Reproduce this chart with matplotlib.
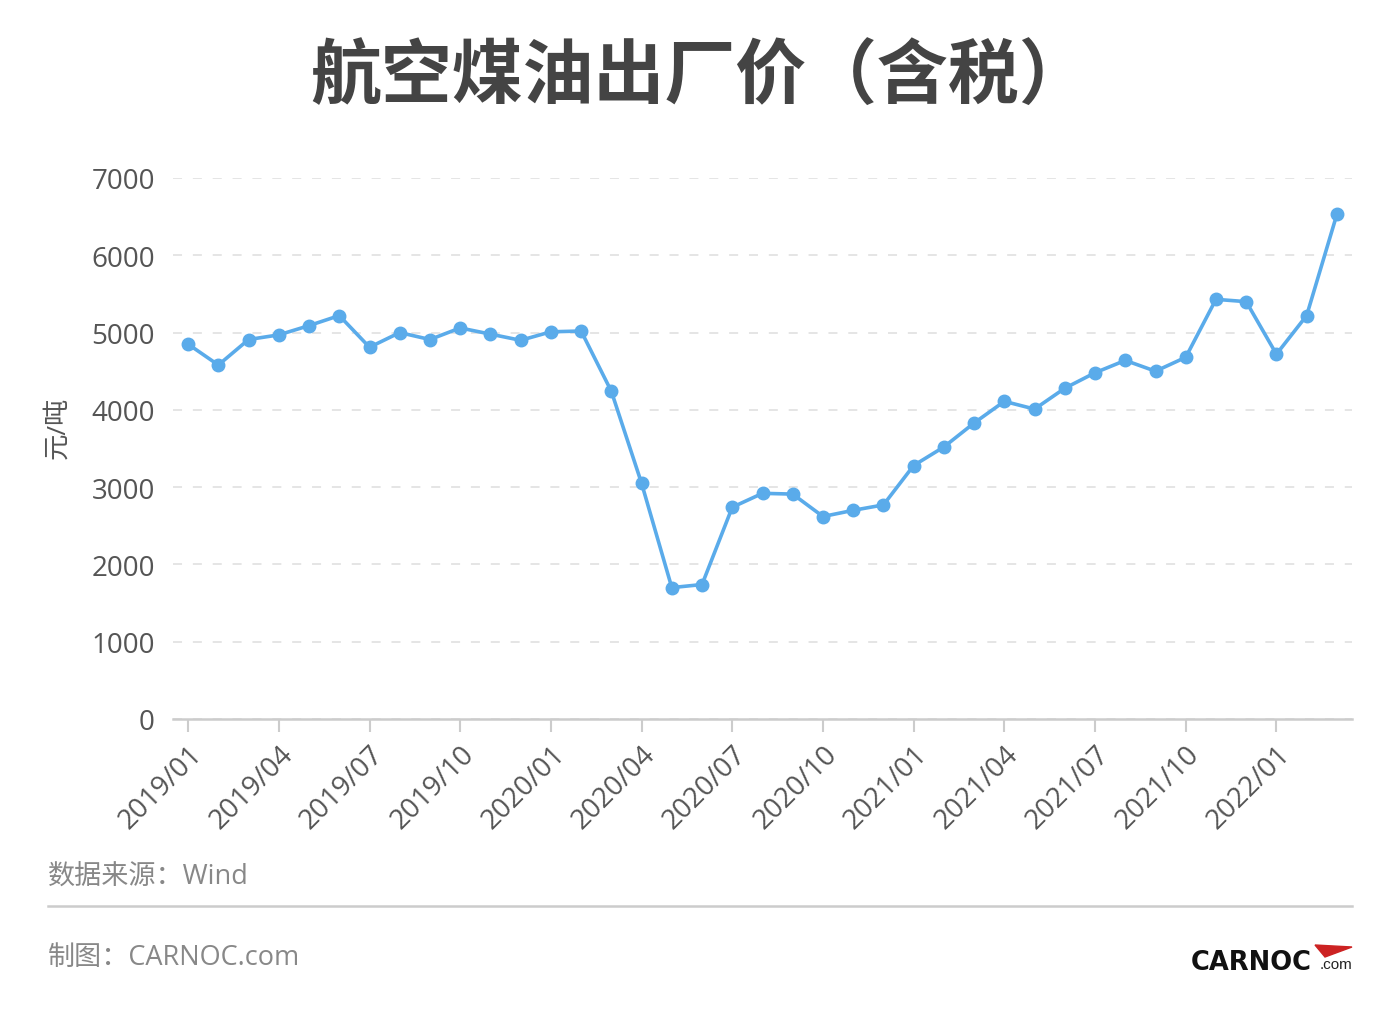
import matplotlib
matplotlib.use("Agg")
import matplotlib.pyplot as plt
from matplotlib.patches import Polygon

plt.rcParams['font.family'] = ['Open Sans', 'Noto Sans CJK SC', 'DejaVu Sans']

months = [f"{y}/{m:02d}" for y in (2019, 2020, 2021) for m in range(1, 13)] + ["2022/01", "2022/02", "2022/03"]
prices = [4850, 4580, 4910, 4970, 5090, 5220, 4810, 5000, 4910, 5060, 4980, 4900,
          5010, 5020, 4240, 3050, 1700, 1740, 2740, 2920, 2910, 2620, 2700, 2770,
          3280, 3520, 3830, 4110, 4010, 4280, 4480, 4640, 4500, 4680, 5430, 5400,
          4720, 5220, 6530]
yticks = [0, 1000, 2000, 3000, 4000, 5000, 6000, 7000]

W, H = 1400, 1020
fig = plt.figure(figsize=(W / 100, H / 100), dpi=100)
ax = fig.add_axes([173 / W, 1 - 720 / H, (1352 - 173) / W, (720 - 179) / H])

x = list(range(len(months)))
ax.plot(x, prices, color='#5aabea', lw=2.6, marker='o', ms=9, mec='#5aabea', mfc='#5aabea', zorder=3, clip_on=False)

ax.set_xlim(-0.5, 38.5)
ax.set_ylim(0, 7000)
ax.set_yticks(yticks)
ax.set_yticklabels([str(v) for v in yticks], fontsize=20, color='#555555')
ax.yaxis.grid(True, linestyle=(0, (5, 6)), color='#e3e3e3', lw=1.3)
ax.set_axisbelow(True)
ax.tick_params(axis='y', length=0, pad=13)

tick_idx = list(range(0, len(months), 3))
ax.set_xticks(tick_idx)
ax.set_xticklabels([months[i] for i in tick_idx], rotation=45, ha='right', va='top',
                   rotation_mode='anchor', fontsize=20, color='#555555')
ax.tick_params(axis='x', length=9, width=1.5, color='#cccccc', pad=6)

for s in ('top', 'right', 'left'):
    ax.spines[s].set_visible(False)
ax.spines['bottom'].set_color('#cccccc')
ax.spines['bottom'].set_linewidth(1.8)

ax.set_ylabel('元/吨', fontsize=19, color='#555555')
ax.yaxis.set_label_coords((58 - 173) / (1352 - 173), (720 - 428) / 541)
ax.yaxis.label.set_va('center')

fig.text(0.5, 1 - 77 / H, '航空煤油出厂价（含税）', ha='center', va='center',
         fontsize=51, fontweight='bold', color='#444444',
         family=['Noto Sans CJK SC', 'DejaVu Sans'])

fig.text(48 / W, 1 - 877 / H, '数据来源：Wind', ha='left', va='center', fontsize=19.5, color='#888888')
fig.text(48 / W, 1 - 958 / H, '制图：CARNOC.com', ha='left', va='center', fontsize=19.5, color='#888888')
fig.add_artist(plt.Line2D([48 / W, 1352 / W], [1 - 907 / H, 1 - 907 / H], color='#cccccc', lw=1.8))

# logo
fig.text(1191 / W, 1 - 963 / H, 'CARNOC', ha='left', va='center', fontsize=18.5, fontweight='bold',
         color='#111111', family=['DejaVu Sans'])
fig.text(1352 / W, 1 - 965 / H, '.com', ha='right', va='center', fontsize=11,
         color='#222222', family=['Liberation Sans', 'DejaVu Sans'])
swoosh = Polygon([[1315 / W, 1 - 946 / H], [1352 / W, 1 - 948 / H], [1325 / W, 1 - 958 / H]],
                 closed=True, transform=fig.transFigure, color='#cc2222')
fig.add_artist(swoosh)

fig.savefig('out.png', dpi=100, facecolor='white')
